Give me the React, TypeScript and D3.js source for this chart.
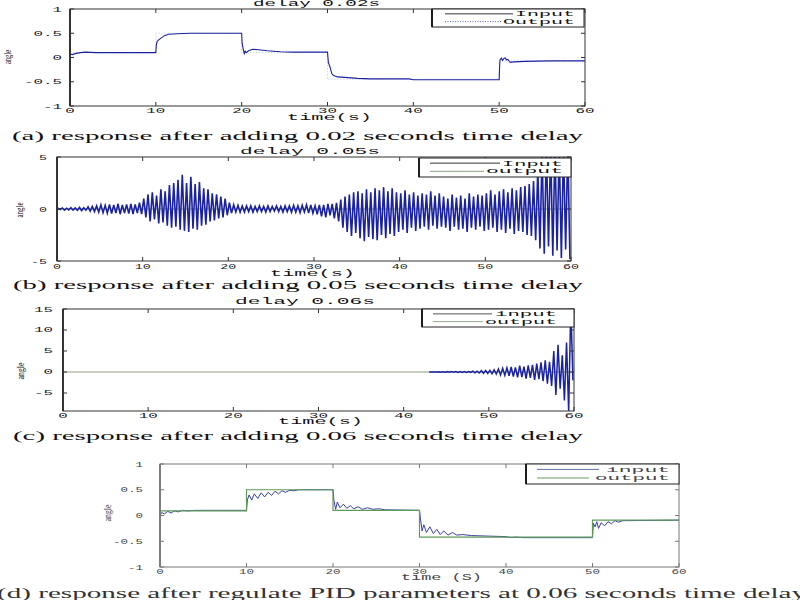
import React from "react";
import * as d3 from "d3";

type Pt = [number, number];

const MONO = "'Liberation Mono', 'DejaVu Sans Mono', monospace";
const SERIF = "'Liberation Serif', 'DejaVu Serif', serif";

const X_TICKS = [0, 10, 20, 30, 40, 50, 60];
const STEP_T = [0, 10, 20, 30, 50, 60];
const STEP_A = [0.1, 0.5, 0.1, -0.45, -0.07, -0.07];
const STEP_D = [0.09, 0.5, 0.1, -0.42, -0.09, -0.09];

const RESP_A: Pt[] = [
  [0, 0], [0.05, 0.07], [0.3, 0.06], [0.6, 0.08], [1.2, 0.1], [1.8, 0.11], [3, 0.1], [10, 0.1],
  [10.05, 0.25], [10.15, 0.33], [10.3, 0.36], [10.6, 0.4], [11, 0.45], [11.5, 0.48], [12.5, 0.49], [14, 0.5], [20, 0.5],
  [20.05, 0.3], [20.15, 0.2], [20.3, 0.08], [20.4, 0.13], [20.5, 0.1], [20.8, 0.14], [21.3, 0.17], [22, 0.16], [23, 0.14],
  [24.5, 0.12], [26, 0.11], [30, 0.11],
  [30.1, -0.1], [30.3, -0.2], [30.5, -0.33], [30.7, -0.37], [31.2, -0.4], [32, -0.41], [33.5, -0.43], [35, -0.44],
  [39.5, -0.44], [40, -0.46], [50, -0.46],
  [50.05, -0.2], [50.1, -0.05], [50.25, -0.01], [50.4, -0.06], [50.55, -0.02], [50.7, -0.01], [50.85, -0.05], [51, -0.04],
  [51.3, -0.1], [51.7, -0.09], [53, -0.08], [56, -0.07], [60, -0.07],
];

const RESP_D: Pt[] = [
  [0, 0], [0.2, 0.06], [0.5, 0.03], [0.9, 0.08], [1.3, 0.05], [1.7, 0.09], [2.1, 0.07], [2.6, 0.1], [3.2, 0.09], [4, 0.1], [10, 0.1],
  [10.1, 0.3], [10.3, 0.4], [10.6, 0.3], [10.9, 0.42], [11.3, 0.33], [11.7, 0.44], [12.1, 0.36], [12.5, 0.45], [12.9, 0.39],
  [13.3, 0.47], [13.7, 0.42], [14.1, 0.48], [14.5, 0.45], [15, 0.49], [15.5, 0.48], [16, 0.5], [20, 0.5],
  [20.1, 0.3], [20.3, 0.12], [20.5, 0.26], [20.8, 0.15], [21.2, 0.22], [21.6, 0.14], [22, 0.19], [22.4, 0.13], [22.9, 0.17],
  [23.4, 0.12], [24, 0.15], [24.6, 0.12], [25.3, 0.13], [26, 0.11], [30, 0.1],
  [30.1, -0.05], [30.3, -0.3], [30.5, -0.18], [30.8, -0.33], [31.2, -0.22], [31.6, -0.35], [32, -0.27], [32.4, -0.37],
  [32.8, -0.3], [33.3, -0.38], [33.8, -0.33], [34.3, -0.38], [35, -0.37], [36, -0.39], [38, -0.4], [40, -0.41],
  [40.5, -0.43], [41, -0.42], [42, -0.43], [50, -0.43],
  [50.1, -0.15], [50.3, -0.22], [50.5, -0.12], [50.7, -0.25], [51, -0.14], [51.4, -0.2], [51.8, -0.12], [52.2, -0.16],
  [52.6, -0.1], [53, -0.13], [53.5, -0.1], [54.2, -0.1], [60, -0.09],
];

const PERIOD = 0.5;
const B_START = 0;
const B_HI = [
  0.05, 0.1, 0.08, 0.12, 0.1, 0.15, 0.12, 0.2, 0.25, 0.3,
  0.4, 0.35, 0.45, 0.4, 0.5, 0.4, 0.45, 0.5, 0.45, 0.6,
  1.0, 1.4, 1.6, 1.3, 1.9, 1.7, 2.3, 2.5, 2.8, 3.3,
  2.5, 3.1, 2.4, 2.6, 2.0, 1.9, 1.5, 1.4, 1.2, 1.0,
  0.6, 0.4, 0.35, 0.3, 0.3, 0.3, 0.25, 0.3, 0.25, 0.3,
  0.25, 0.3, 0.25, 0.3, 0.3, 0.35, 0.3, 0.35, 0.4, 0.4,
  0.3, 0.4, 0.4, 0.5, 0.5, 0.6, 0.9, 1.2, 1.4, 1.6,
  1.7, 1.5, 1.9, 1.6, 2.0, 1.8, 2.1, 1.7, 2.0, 1.6,
  1.5, 1.8, 1.4, 1.6, 1.3, 1.5, 1.4, 1.7, 1.3, 1.5,
  1.2, 1.0, 1.4, 1.1, 1.3, 1.0, 1.5, 1.2, 1.4, 1.3,
  1.5, 1.8, 1.4, 1.7, 1.9, 1.6, 2.0, 1.8, 2.1, 2.2,
  2.4, 2.7, 3.8, 5.5, 6, 6, 6, 6, 6, 6,
];
const B_LO = [
  -0.05, -0.1, -0.08, -0.1, -0.12, -0.15, -0.12, -0.2, -0.25, -0.3,
  -0.35, -0.4, -0.45, -0.4, -0.5, -0.4, -0.45, -0.5, -0.4, -0.5,
  -0.8, -1.2, -1.0, -1.4, -1.3, -1.6, -1.8, -1.7, -2.0, -2.1,
  -2.2, -1.9, -2.0, -1.6, -1.5, -1.2, -1.1, -0.9, -0.8, -0.6,
  -0.4, -0.3, -0.3, -0.3, -0.25, -0.3, -0.25, -0.25, -0.3, -0.25,
  -0.2, -0.25, -0.3, -0.25, -0.3, -0.3, -0.35, -0.3, -0.4, -0.4,
  -0.5, -0.7, -0.8, -0.6, -0.9, -1.2, -1.8, -2.2, -2.6, -2.3,
  -2.8, -3.1, -2.7, -2.9, -3.0, -2.5, -2.8, -2.4, -2.6, -2.2,
  -2.0, -2.3, -1.8, -2.1, -1.9, -1.7, -2.0, -1.6, -1.9, -1.7,
  -1.8, -2.1, -1.7, -2.0, -1.9, -2.2, -1.8, -2.0, -1.7, -2.1,
  -2.0, -1.8, -2.2, -2.0, -2.3, -1.9, -2.4, -2.1, -2.2, -2.5,
  -2.6, -3.0, -3.8, -4.3, -3.6, -4.5, -4.0, -4.7, -3.9, -4.8,
];

const C_START = 44;
const C_HI = [
  0.05, 0.05, 0.08, 0.08, 0.1, 0.1, 0.12, 0.12,
  0.2, 0.2, 0.3, 0.35, 0.4, 0.5, 0.7, 0.9,
  1.0, 1.2, 1.1, 1.5, 1.3, 1.6, 1.7, 2.0,
  2.3, 2.8, 2.4, 5.0, 6.5, 4.0, 7.0, 16,
];
const C_LO = [
  -0.05, -0.05, -0.08, -0.08, -0.1, -0.1, -0.12, -0.12,
  -0.2, -0.25, -0.3, -0.35, -0.4, -0.5, -0.7, -0.8,
  -0.9, -1.1, -1.3, -1.2, -1.6, -1.4, -1.9, -1.7,
  -2.2, -2.8, -3.3, -5.5, -4.0, -6.8, -9.5, -2.0,
];

const A_YTICKS = [-1, -0.5, 0, 0.5, 1];
const B_YTICKS = [-5, 0, 5];
const C_YTICKS = [-5, 0, 5, 10, 15];

const BLUE = "#1b22a0";

function oscPoints(start: number, hi: number[], lo: number[]): Pt[] {
  const pts: Pt[] = [[start, 0]];
  hi.forEach((h, i) => {
    const t = start + i * PERIOD;
    pts.push([t + PERIOD * 0.25, h]);
    pts.push([t + PERIOD * 0.75, lo[i]]);
  });
  return pts;
}

function stepPoints(levels: number[]): Pt[] {
  return STEP_T.map((t, i) => [t, levels[i]] as Pt);
}

function T(props: any) {
  const { x, y, w, fs, fam = MONO, anchor = "start", fill = "#111", weight = 400, children } = props;
  const x0 = anchor === "start" ? x : anchor === "end" ? x - w : x - w / 2;
  return (
    <text x={x0} y={y} fontSize={fs} fontFamily={fam} fill={fill} fontWeight={weight}
      textLength={w} lengthAdjust="spacingAndGlyphs">{children}</text>
  );
}

function VT(props: any) {
  const { cx, cy, h, fs, fam = SERIF, fill = "#111", children } = props;
  return (
    <text transform={`translate(${cx},${cy}) rotate(-90)`} x={-h / 2} y={fs * 0.35} fontSize={fs}
      fontFamily={fam} fill={fill} textLength={h} lengthAdjust="spacingAndGlyphs">{children}</text>
  );
}

type Series = { pts: Pt[]; color: string; width: number; dash?: string; step?: boolean };

function Panel(p: any) {
  const { id, l, r, t, b, yDomain, yTicks, charW, tickFs, yLabRight, xLabBase, axisColor, textColor, leftW, series } = p;
  const x = d3.scaleLinear().domain([0, 60]).range([l, r]);
  const y = d3.scaleLinear().domain(yDomain).range([b, t]);
  const fmt = (v: number) => (v < 0 ? "-" : "") + String(Math.abs(v));
  const mk = (s: Series) =>
    d3.line<Pt>().x((d) => x(d[0])).y((d) => y(d[1])).curve(s.step ? d3.curveStepAfter : d3.curveLinear)(s.pts) || "";
  return (
    <g>
      <defs>
        <clipPath id={id}>
          <rect x={l} y={t} width={r - l} height={b - t} />
        </clipPath>
      </defs>
      <g clipPath={`url(#${id})`}>
        {series.map((s: Series, i: number) => (
          <path key={i} d={mk(s)} fill="none" stroke={s.color} strokeWidth={s.width}
            strokeDasharray={s.dash} strokeLinejoin="miter" />
        ))}
      </g>
      <rect x={l} y={t} width={r - l} height={b - t} fill="none" stroke={axisColor} strokeWidth={1} />
      <line x1={l} x2={l} y1={t} y2={b} stroke={axisColor} strokeWidth={leftW} />
      {X_TICKS.map((v) => (
        <g key={"x" + v}>
          <line x1={x(v)} x2={x(v)} y1={b} y2={b - 4} stroke={axisColor} />
          <line x1={x(v)} x2={x(v)} y1={t} y2={t + 4} stroke={axisColor} />
          <T x={x(v)} y={xLabBase} w={String(v).length * charW} fs={tickFs} anchor="middle" fill={textColor}>{String(v)}</T>
        </g>
      ))}
      {yTicks.map((v: number) => (
        <g key={"y" + v}>
          <line x1={l} x2={l + 4} y1={y(v)} y2={y(v)} stroke={axisColor} />
          <line x1={r} x2={r - 4} y1={y(v)} y2={y(v)} stroke={axisColor} />
          <T x={yLabRight} y={y(v) + 2.5} w={fmt(v).length * charW} fs={tickFs} anchor="end" fill={textColor}>{fmt(v)}</T>
        </g>
      ))}
    </g>
  );
}

function Legend(p: any) {
  const { x0, x1, y0, y1, l1, l2, c1, c2, d2, t1, t2 } = p;
  const ym1 = y0 + (y1 - y0) * 0.27;
  const ym2 = y0 + (y1 - y0) * 0.7;
  return (
    <g>
      <rect x={x0} y={y0} width={x1 - x0} height={y1 - y0} fill="#fff" stroke="#222" strokeWidth={1} />
      <line x1={x0} x2={x0} y1={y0} y2={y1} stroke="#111" strokeWidth={1.8} />
      <line x1={l1[0]} x2={l1[1]} y1={ym1} y2={ym1} stroke={c1} strokeWidth={1} />
      <line x1={l2[0]} x2={l2[1]} y1={ym2} y2={ym2} stroke={c2} strokeWidth={1} strokeDasharray={d2} />
      <T x={t1[0]} y={ym1 + 2.4} w={t1[1] - t1[0]} fs={7} fill={p.tc || "#111"}>{t1[2]}</T>
      <T x={t2[0]} y={ym2 + 2.0} w={t2[1] - t2[0]} fs={7} fill={p.tc || "#111"}>{t2[2]}</T>
    </g>
  );
}

export default function App() {
  const flatB = [[0, 0], [60, 0]] as Pt[];
  const cResp: Pt[] = [[C_START - 1, 0], ...oscPoints(C_START, C_HI, C_LO)];
  return (
    <svg width={800} height={600} style={{ position: "absolute", left: 0, top: 0, background: "#fff" }}>
      <rect x={0} y={0} width={800} height={600} fill="#fff" />

      {/* (a) */}
      <Panel id="ca" l={70} r={585} t={9} b={106} yDomain={[-1, 1]} yTicks={A_YTICKS} charW={9.5} tickFs={7.5}
        yLabRight={62} xLabBase={113} axisColor="#333" textColor="#222" leftW={2}
        series={[
          { pts: stepPoints(STEP_A), color: "#b8c0dc", width: 1, dash: "1,2", step: true },
          { pts: RESP_A, color: BLUE, width: 1.1 },
        ]} />
      <T x={253} y={5.5} w={127} fs={9}>delay 0.02s</T>
      <T x={287} y={120} w={85} fs={8.5}>time(s)</T>
      <VT cx={8} cy={57} h={14} fs={9.5}>angle</VT>
      <Legend x0={432} x1={584} y0={9} y1={27} l1={[445, 513]} l2={[445, 502]} c1="#334" c2="#6070b0" d2="1,1.5"
        t1={[515, 575, "Input"]} t2={[503, 575, "Output"]} />
      <T x={12} y={139.5} w={571} fs={13} fam={SERIF}>(a) response after adding 0.02 seconds time delay</T>

      {/* (b) */}
      <Panel id="cb" l={57} r={571} t={157} b={261} yDomain={[-5, 5]} yTicks={B_YTICKS} charW={8} tickFs={7.5}
        yLabRight={47} xLabBase={268.5} axisColor="#333" textColor="#222" leftW={2}
        series={[
          { pts: flatB, color: "#9aa890", width: 1 },
          { pts: oscPoints(B_START, B_HI, B_LO), color: BLUE, width: 1.6 },
        ]} />
      <T x={240} y={154} w={140} fs={9}>delay 0.05s</T>
      <T x={270} y={276} w={85} fs={8.5}>time(s)</T>
      <VT cx={20} cy={210} h={15} fs={9.5}>angle</VT>
      <Legend x0={419} x1={571} y0={158} y1={177} l1={[430, 500]} l2={[430, 484]} c1="#333" c2="#8a9a80"
        t1={[502, 563, "Input"]} t2={[486, 563, "output"]} />
      <T x={13} y={288.5} w={570} fs={13} fam={SERIF}>(b) response after adding 0.05 seconds time delay</T>

      {/* (c) */}
      <Panel id="cc" l={63} r={574} t={309} b={411} yDomain={[-9.29, 15]} yTicks={C_YTICKS} charW={9.5} tickFs={7.5}
        yLabRight={53} xLabBase={417.5} axisColor="#333" textColor="#222" leftW={2}
        series={[
          { pts: flatB, color: "#b4bcaa", width: 1.3 },
          { pts: cResp, color: BLUE, width: 1.5 },
        ]} />
      <T x={235} y={304} w={140} fs={9}>delay 0.06s</T>
      <T x={278} y={424} w={85} fs={8.5}>time(s)</T>
      <VT cx={21} cy={371} h={17} fs={9.5}>angle</VT>
      <Legend x0={422} x1={574} y0={309} y1={327} l1={[433, 492]} l2={[433, 483]} c1="#555" c2="#9aa890"
        t1={[495, 557, "input"]} t2={[485, 557, "output"]} />
      <T x={13} y={439.5} w={570} fs={13} fam={SERIF}>(c) response after adding 0.06 seconds time delay</T>

      {/* (d) */}
      <Panel id="cd" l={160} r={679} t={464} b={567} yDomain={[-1, 1]} yTicks={A_YTICKS} charW={7.5} tickFs={7}
        yLabRight={143} xLabBase={574} axisColor="#777" textColor="#444" leftW={1.8}
        series={[
          { pts: RESP_D, color: "#3a40a8", width: 1 },
          { pts: stepPoints(STEP_D), color: "#5f9a5a", width: 1.2, step: true },
        ]} />
      <T x={401} y={579.5} w={81} fs={8.5} fill="#444">time (S)</T>
      <VT cx={108} cy={513} h={17} fs={9.5} fill="#444">angle</VT>
      <Legend x0={526} x1={679} y0={464} y1={484} l1={[537, 599]} l2={[537, 589]} c1="#6070a8" c2="#6a9a60"
        t1={[606, 670, "input"]} t2={[595, 670, "output"]} tc="#444" />
      <T x={-3} y={598} w={809} fs={14} fam={SERIF} fill="#333">(d) response after regulate PID parameters at 0.06 seconds time delay</T>
    </svg>
  );
}
